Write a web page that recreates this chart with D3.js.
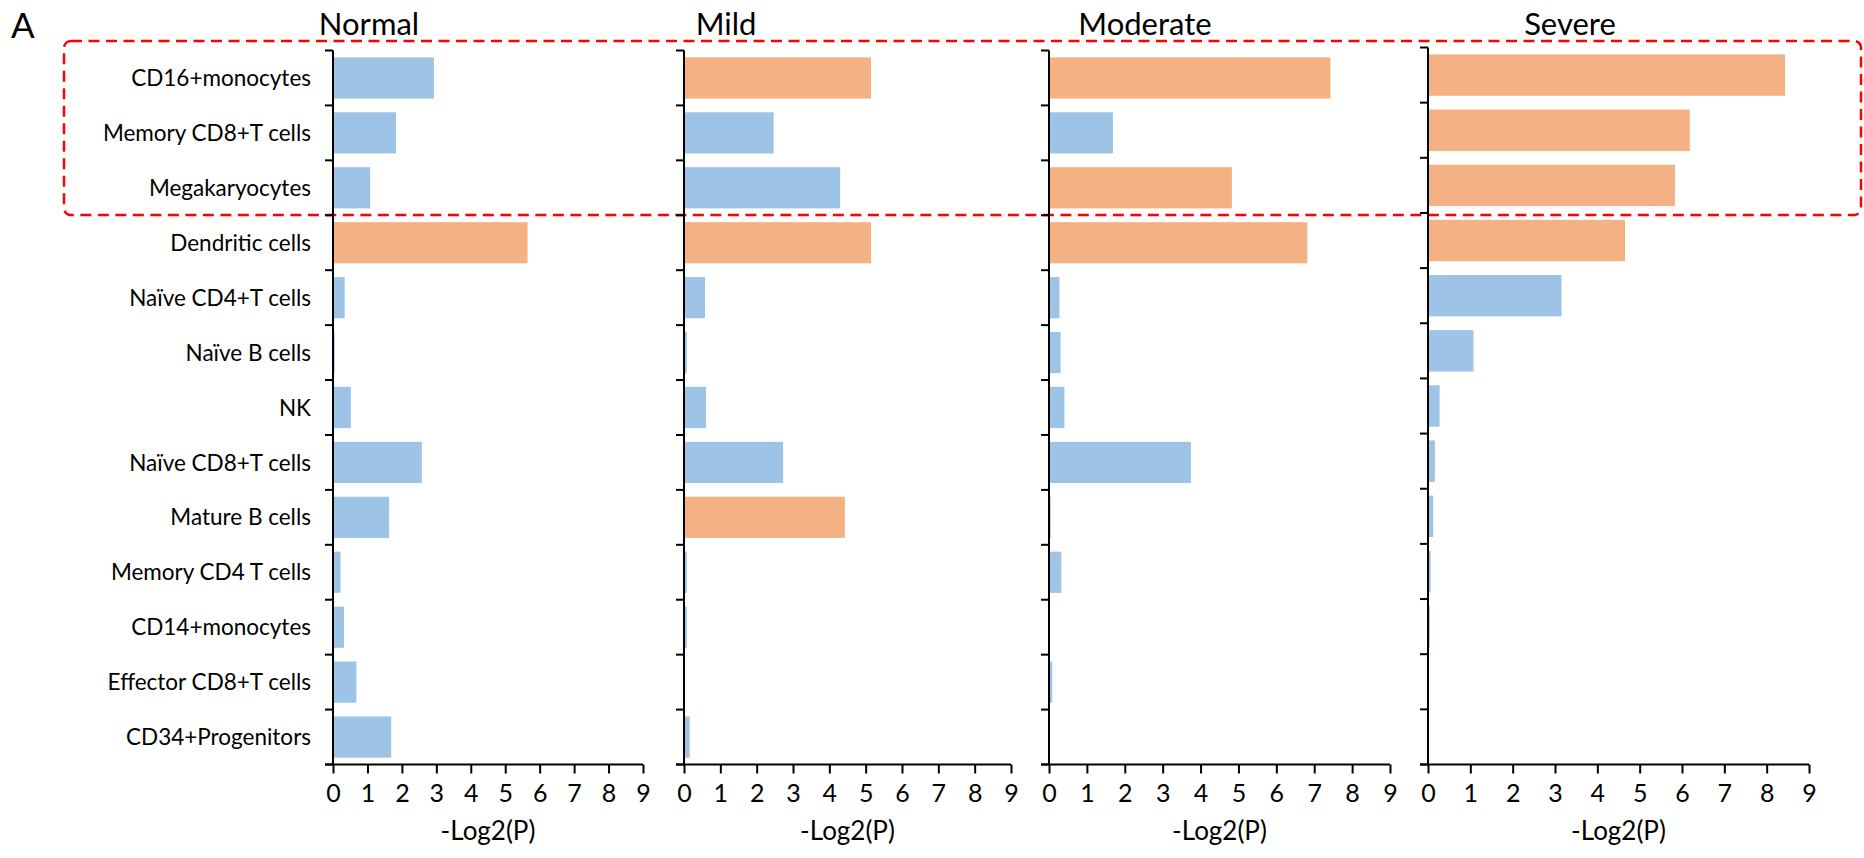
<!DOCTYPE html>
<html>
<head>
<meta charset="utf-8">
<script src="https://cdn.jsdelivr.net/npm/d3@7"></script>
<style>
  body { margin: 0; background: #fff; }
  svg text { font-family: Lato, "Open Sans", sans-serif; fill: #000; }
  .axis path, .axis line { stroke: #000; stroke-width: 2px; }
</style>
</head>
<body>
<div id="chart"></div>
<script>
// cell types, top to bottom
var categories = ["CD16+monocytes", "Memory CD8+T cells", "Megakaryocytes", "Dendritic cells",
  "Naïve CD4+T cells", "Naïve B cells", "NK", "Naïve CD8+T cells", "Mature B cells",
  "Memory CD4 T cells", "CD14+monocytes", "Effector CD8+T cells", "CD34+Progenitors"];

var groups = ["Normal", "Mild", "Moderate", "Severe"];

// -Log2(P) per cell type
var normalVals   = [2.9, 1.8, 1.05, 5.62, 0.31, 0.02, 0.49, 2.55, 1.6, 0.19, 0.29, 0.65, 1.66];
var mildVals     = [5.12, 2.44, 4.27, 5.12, 0.55, 0.05, 0.58, 2.7, 4.4, 0.05, 0.05, 0.0, 0.13];
var moderateVals = [7.4, 1.66, 4.8, 6.79, 0.25, 0.28, 0.38, 3.72, 0.02, 0.3, 0.0, 0.06, 0.0];
var severeVals   = [8.41, 6.16, 5.81, 4.63, 3.13, 1.05, 0.25, 0.14, 0.1, 0.04, 0.02, 0.0, 0.0];

var xTicks = [0, 1, 2, 3, 4, 5, 6, 7, 8, 9];
var xLabel = "-Log2(P)";
var threshold = -Math.log2(0.05); // p < 0.05 drawn orange

var allVals = [normalVals, mildVals, moderateVals, severeVals];

var W = 1864, H = 858;
var svg = d3.select("#chart").append("svg")
  .attr("width", W)
  .attr("height", H);

// panel placement (left edge, width, top)
var panelLeft = [333, 684, 1049, 1428];
var panelWidth = [310, 327, 341, 381];
var panelTop = [50.5, 50.5, 50.5, 47.5];
var plotBottom = 764.5;

var blue = "#9dc3e6", orange = "#f4b183";

// dashed highlight box round the first three rows
svg.append("rect")
  .attr("x", 64).attr("y", 41)
  .attr("width", 1861 - 64).attr("height", 215 - 41)
  .attr("rx", 7).attr("ry", 7)
  .attr("fill", "none")
  .attr("stroke", "#ff0000")
  .attr("stroke-width", 2.5)
  .attr("stroke-dasharray", "11,6.5");

svg.append("text")
  .attr("x", 11).attr("y", 38)
  .style("font-size", "35px")
  .text("A");

groups.forEach(function(g, gi) {
  var vals = allVals[gi];
  var data = categories.map(function(c, i) { return {cat: c, v: vals[i]}; });

  var x = d3.scaleLinear()
    .domain([0, 9])
    .range([0, panelWidth[gi]]);

  var y = d3.scaleBand()
    .domain(categories)
    .range([panelTop[gi], plotBottom])
    .paddingInner(0.25)
    .paddingOuter(0.125);

  var p = svg.append("g")
    .attr("transform", "translate(" + panelLeft[gi] + ",0)");

  // bars
  p.selectAll("rect.bar")
    .data(data)
    .enter()
    .append("rect")
    .attr("class", "bar")
    .attr("x", x(0) + 1)
    .attr("y", function(d) { return y(d.cat); })
    .attr("width", function(d) { return Math.max(0, x(d.v) - x(0)); })
    .attr("height", y.bandwidth())
    .attr("fill", function(d) { return d.v > threshold ? orange : blue; });

  // x axis
  var xa = p.append("g")
    .attr("class", "axis")
    .attr("transform", "translate(0," + plotBottom + ")")
    .call(d3.axisBottom(x).tickValues(xTicks).tickSizeOuter(0).tickSize(9).tickPadding(11));
  xa.selectAll("text").style("font-size", "25px");
  xa.select(".domain").attr("d", "M-8,0H" + panelWidth[gi]);

  // y axis: ticks on band edges, labels only on first panel
  var ya = p.append("g").attr("class", "axis");
  ya.append("line")
    .attr("x1", 0).attr("x2", 0)
    .attr("y1", panelTop[gi]).attr("y2", plotBottom);
  var edges = categories.map(function(c) { return y(c) - y.step() * y.paddingInner() / 2; });
  edges.push(plotBottom);
  ya.selectAll("line.tk")
    .data(edges)
    .enter()
    .append("line")
    .attr("class", "tk")
    .attr("x1", -8).attr("x2", 0)
    .attr("y1", function(d) { return d; })
    .attr("y2", function(d) { return d; });

  if (gi === 0) {
    p.selectAll("text.cat")
      .data(categories)
      .enter()
      .append("text")
      .attr("class", "cat")
      .attr("x", -22)
      .attr("y", function(d) { return y(d) + y.bandwidth() / 2; })
      .attr("dy", "0.36em")
      .attr("text-anchor", "end")
      .style("font-size", "22.5px")
      .text(function(d) { return d; });
  }

  // x title
  p.append("text")
    .attr("x", panelWidth[gi] / 2)
    .attr("y", 840)
    .attr("text-anchor", "middle")
    .style("font-size", "26px")
    .text(xLabel);
});

// group titles
var titleX = [369, 726, 1145, 1570];
svg.selectAll("text.title")
  .data(groups)
  .enter()
  .append("text")
  .attr("class", "title")
  .attr("x", function(d, i) { return titleX[i]; })
  .attr("y", 35)
  .attr("text-anchor", "middle")
  .style("font-size", "31px")
  .text(function(d) { return d; });
</script>
</body>
</html>
